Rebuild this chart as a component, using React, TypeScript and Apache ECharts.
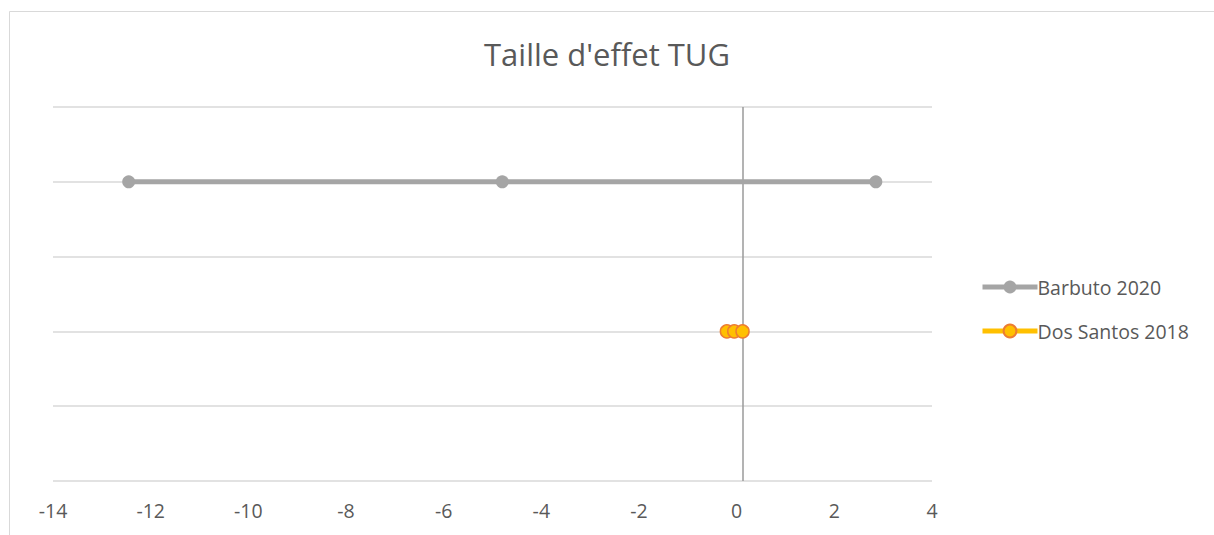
import React, { useEffect, useRef } from "react";
import * as echarts from "echarts";

const titleText = "Taille d'effet TUG";
const seriesNames = ["Barbuto 2020", "Dos Santos 2018"];
const barbutoX = [-12.45, -4.8, 2.85];
const barbutoY = [2, 2, 2];
const dosSantosX = [-0.2, -0.05, 0.12];
const dosSantosY = [1, 1, 1];
const xTicks = { min: -14, max: 4, interval: 2 };
const yTicks = { min: 0, max: 2.5, interval: 0.5 };
const refLineX = 0.12;

export default function App() {
  const ref = useRef<HTMLDivElement>(null);
  useEffect(() => {
    if (!ref.current) return;
    const chart = echarts.init(ref.current, null, { renderer: "svg" });
    const font = "'Open Sans', 'Noto Sans', sans-serif";
    chart.setOption({
      animation: false,
      backgroundColor: "#ffffff",
      title: {
        text: titleText,
        left: "center",
        top: 33,
        textStyle: { color: "#595959", fontSize: 31, fontWeight: "normal", fontFamily: font },
      },
      legend: {
        orient: "vertical",
        left: 975,
        top: 272,
        itemWidth: 55,
        itemHeight: 16,
        itemGap: 24,
        lineStyle: { width: 5 },
        textStyle: { color: "#595959", fontSize: 19.5, fontFamily: font, padding: [0, 0, 0, -5] },
        data: seriesNames,
      },
      graphic: [
        {
          type: "rect",
          shape: { x: 9.5, y: 11.5, width: 1210, height: 600 },
          style: { fill: "none", stroke: "#d9d9d9", lineWidth: 1 },
          silent: true,
        },
      ],
      grid: { left: 53, right: 282, top: 107, bottom: 54, containLabel: false },
      xAxis: {
        type: "value",
        min: xTicks.min,
        max: xTicks.max,
        interval: xTicks.interval,
        axisLine: { show: false },
        axisTick: { show: false },
        splitLine: { show: false },
        axisLabel: { color: "#595959", fontSize: 19.5, fontFamily: font, margin: 19 },
      },
      yAxis: {
        type: "value",
        min: yTicks.min,
        max: yTicks.max,
        interval: yTicks.interval,
        axisLine: { show: false },
        axisTick: { show: false },
        axisLabel: { show: false },
        splitLine: { show: true, lineStyle: { color: "#d9d9d9", width: 1.5 } },
      },
      series: [
        {
          name: seriesNames[0],
          type: "line",
          data: barbutoX.map((x, i) => [x, barbutoY[i]]),
          symbol: "circle",
          symbolSize: 13,
          lineStyle: { color: "#A5A5A5", width: 5 },
          itemStyle: { color: "#A5A5A5" },
          z: 3,
          markLine: {
            silent: true,
            symbol: ["none", "none"],
            label: { show: false },
            lineStyle: { color: "#9a9a9a", width: 1.5, type: "solid" },
            data: [{ xAxis: refLineX }],
            z: 1,
          },
        },
        {
          name: seriesNames[1],
          type: "line",
          data: dosSantosX.map((x, i) => [x, dosSantosY[i]]),
          symbol: "circle",
          symbolSize: 13,
          lineStyle: { color: "#FFC000", width: 5 },
          itemStyle: { color: "#FFC000", borderColor: "#ED7D31", borderWidth: 1.5 },
          z: 4,
        },
      ],
    });
    return () => chart.dispose();
  }, []);
  return (
    <div
      ref={ref}
      style={{ position: "absolute", left: 0, top: 0, width: 1214, height: 535 }}
    />
  );
}
